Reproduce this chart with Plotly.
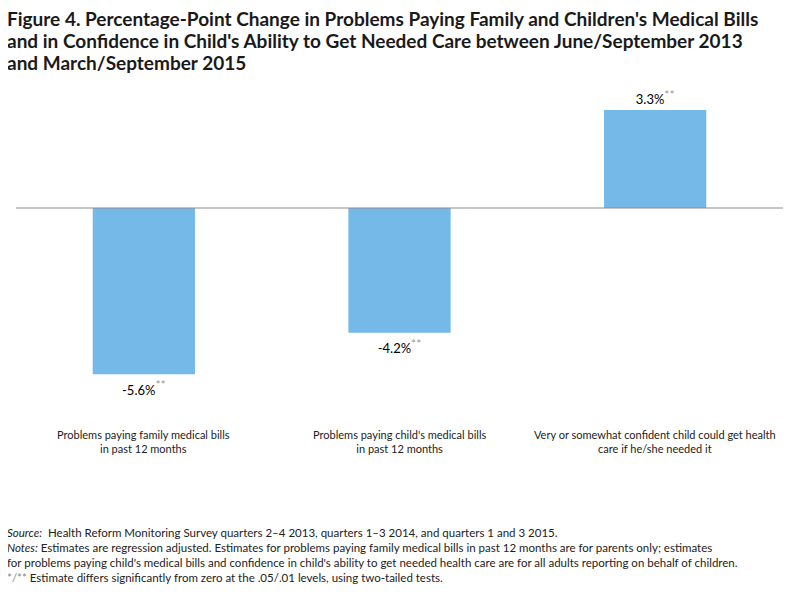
import plotly.graph_objects as go

categories = [
    "Problems paying family medical bills<br>in past 12 months",
    "Problems paying child's medical bills<br>in past 12 months",
    "Very or somewhat confident child could get health<br>care if he/she needed it",
]
values = [-5.6, -4.2, 3.3]
significance = ["**", "**", "**"]

title_lines = [
    "Figure 4. Percentage-Point Change in Problems Paying Family and Children's Medical Bills",
    "and in Confidence in Child's Ability to Get Needed Care between June/September 2013",
    "and March/September 2015",
]

notes_lines = [
    "<i>Source:</i>  Health Reform Monitoring Survey quarters 2–4 2013, quarters 1–3 2014, and quarters 1 and 3 2015.",
    "<i>Notes:</i> Estimates are regression adjusted. Estimates for problems paying family medical bills in past 12 months are for parents only; estimates",
    "for problems paying child's medical bills and confidence in child's ability to get needed health care are for all adults reporting on behalf of children.",
    "<span style='color:#888'>*/**</span> Estimate differs significantly from zero at the .05/.01 levels, using two-tailed tests.",
]

FONT = "Lato"
OFF = 8  # page body margin in the browser
W, H = 800, 600
plot_top, plot_bottom = 90 - OFF, 400 - OFF
plot_left, plot_right = 16 - OFF, 783 - OFF
scale = 29.7
zero_y = 208 - OFF
y_top = (zero_y - plot_top) / scale
y_bot = -(plot_bottom - zero_y) / scale

labels = [f"{v:.1f}%<sup><span style='color:#999;font-size:12px'>{s}</span></sup>" for v, s in zip(values, significance)]

fig = go.Figure()
fig.add_trace(go.Bar(
    x=[0, 1, 2], y=values, width=0.4,
    marker=dict(color="#75B9E8", line=dict(width=0)),
    text=labels, textposition="outside", cliponaxis=False,
    textfont=dict(family=FONT, size=13, color="black"),
))

fig.add_hline(y=0, line=dict(color="#8a8a8a", width=1))

ph = plot_bottom - plot_top
pw = plot_right - plot_left


def py(pix):
    return (plot_bottom - (pix - OFF)) / ph


def px(pix):
    return ((pix - OFF) - plot_left) / pw


for i, c in enumerate(categories):
    fig.add_annotation(x=i, xref="x", y=py(441), yref="paper",
                       text=c, showarrow=False, yanchor="middle",
                       font=dict(family=FONT, size=11, color="#222"), align="center")

for j, line in enumerate(title_lines):
    fig.add_annotation(x=px(5), xref="paper", y=py(18 + j * 22.3), yref="paper",
                       text=f"<b>{line}</b>", showarrow=False, xanchor="left", yanchor="middle",
                       font=dict(family=FONT, size=19, color="#1a1a1a"), align="left")

for j, line in enumerate(notes_lines):
    fig.add_annotation(x=px(5), xref="paper", y=py(532 + j * 15.3), yref="paper",
                       text=line, showarrow=False, xanchor="left", yanchor="middle",
                       font=dict(family=FONT, size=11.5, color="#222"), align="left")

fig.update_layout(
    width=W, height=H,
    paper_bgcolor="white", plot_bgcolor="white",
    margin=dict(l=plot_left, r=W - plot_right, t=plot_top, b=H - plot_bottom),
    showlegend=False,
    xaxis=dict(range=[-0.5, 2.5], showticklabels=False, showgrid=False, zeroline=False, showline=False, ticks=""),
    yaxis=dict(range=[y_bot, y_top], showticklabels=False, showgrid=False, zeroline=False, showline=False, ticks=""),
)

fig.write_html("out.html")
